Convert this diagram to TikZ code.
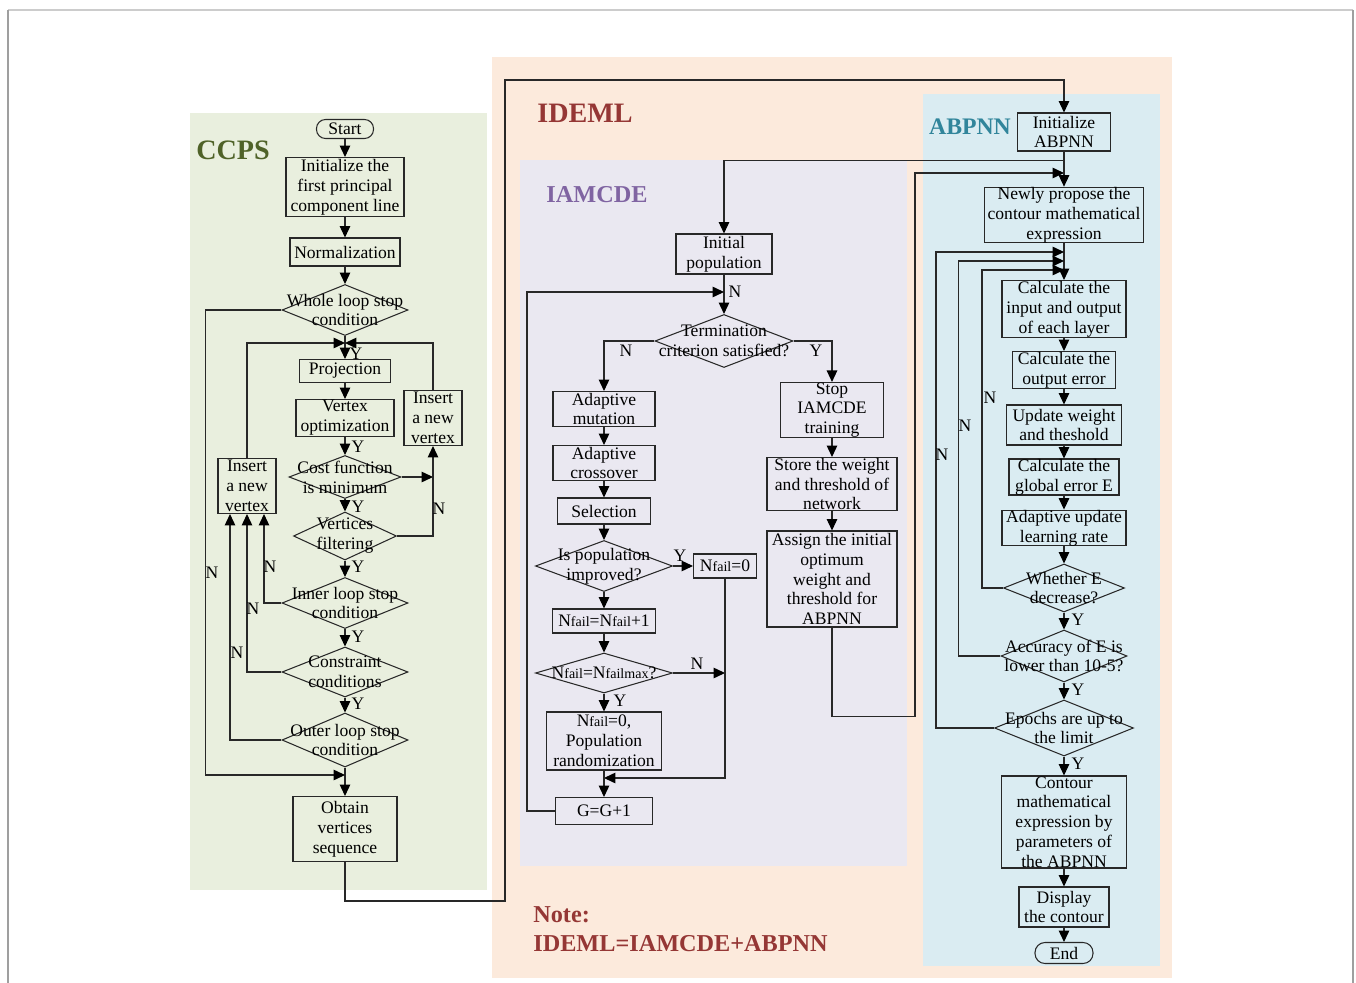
\documentclass[tikz,border=0pt]{standalone}
\usepackage{fontspec}
\setmainfont{Liberation Serif}
\usetikzlibrary{arrows.meta,shapes.geometric,calc}
\definecolor{ccpsbg}{RGB}{233,239,222}
\definecolor{idemlbg}{RGB}{252,234,220}
\definecolor{iamcdebg}{RGB}{234,232,241}
\definecolor{abpnnbg}{RGB}{218,236,242}
\definecolor{ccpsc}{RGB}{79,98,40}
\definecolor{idemlc}{RGB}{149,55,53}
\definecolor{iamcdec}{RGB}{128,100,162}
\definecolor{abpnnc}{RGB}{49,133,155}
\definecolor{linec}{RGB}{40,40,40}
\newcommand{\flowfont}{\fontsize{10}{11.3}\selectfont}
\newcommand{\sub}[1]{{\fontsize{8}{9}\selectfont #1}}
\tikzset{
	box/.style={draw=linec, line width=0.6pt, align=center, inner sep=0pt, font=\flowfont},
	dec/.style={draw=linec, line width=0.6pt, diamond, inner sep=0pt},
	dl/.style={label={[font=\flowfont,align=center]center:#1}},
	sz/.style 2 args={minimum width=#1*0.02cm, minimum height=#2*0.02cm},
	arr/.style={draw=linec, line width=0.6pt, -{Triangle[length=6.5pt,width=6pt,color=black]}},
	yn/.style={font=\flowfont, inner sep=0pt},
	title/.style={font=\fontsize{#1}{#1}\selectfont\bfseries, inner sep=0pt},
}
\begin{document}
\begin{tikzpicture}[x=0.02cm,y=-0.02cm]
	\useasboundingbox (0,0) rectangle (1356,983);
	% frame and regions
	\draw[gray!40, line width=1pt] (8,10) -- (1353,10);
	\draw[gray!75, line width=0.8pt] (8,10) -- (8,983) (1353,10) -- (1353,983);
	\fill[ccpsbg] (190,113) rectangle (487,890);
	\fill[idemlbg] (492,57) rectangle (1172,978);
	\fill[iamcdebg] (520,160) rectangle (907,866);
	\fill[abpnnbg] (923,94) rectangle (1160,966);
	\node[title=16, text=ccpsc] (tccps) at (233,150) {CCPS};
	\node[title=16, text=idemlc] (tideml) at (585,113) {IDEML};
	\node[title=13.8, text=iamcdec] (tiamcde) at (597,195) {IAMCDE};
	\node[title=13.5, text=abpnnc] (tabpnn) at (970,127) {ABPNN};
	\node[title=13.8, text=idemlc, anchor=west] (tnote) at (533,915) {Note:};
	\node[title=13.8, text=idemlc, anchor=west] (tsum) at (533,944) {IDEML=IAMCDE+ABPNN};

	% CCPS
	\node[box, sz={57}{19}, rounded corners=0.18cm] (start) at (345,129) {Start};
	\node[box, sz={118}{59}] (init) at (345,187) {Initialize the\\first principal\\component line};
	\node[box, sz={110}{28}] (norm) at (345,252) {Normalization};
	\node[dec, sz={126}{51}, dl={Whole loop stop\\condition}] (whole) at (345,310) {};
	\node[box, sz={91}{23}] (proj) at (345,371) {Projection};
	\node[box, sz={98}{37}] (vopt) at (345,418) {Vertex\\optimization};
	\node[dec, sz={112}{43}, dl={Cost function\\is minimum}] (cost) at (345,477) {};
	\node[dec, sz={103}{48}, dl={Vertices\\filtering}] (vfilt) at (345,536) {};
	\node[dec, sz={126}{51}, dl={Inner loop stop\\condition}] (inner) at (345,603) {};
	\node[dec, sz={126}{50}, dl={Constraint\\conditions}] (constr) at (345,672) {};
	\node[dec, sz={126}{54}, dl={Outer loop stop\\condition}] (outer) at (345,740) {};
	\node[box, sz={104}{65}] (obtain) at (345,829) {Obtain\\vertices\\sequence};
	\node[box, sz={58}{55}] (insL) at (247,486) {Insert\\a new\\vertex};
	\node[box, sz={58}{55}] (insR) at (433,418) {Insert\\a new\\vertex};
	\coordinate (mTop) at (345,343);
	\coordinate (mCost) at (433,477);
	\coordinate (mOut) at (345,775);
	\coordinate (cBot) at (505,901);
	\coordinate (cTop) at (505,80);

	\draw[arr] (start) -- (init);
	\draw[arr] (init) -- (norm);
	\draw[arr] (norm) -- (whole);
	\draw[arr] (whole) -- (proj);
	\draw[arr] (insL.north) |- (mTop);
	\draw[arr] (insR.north) |- (mTop);
	\draw[arr] (proj) -- (vopt);
	\draw[arr] (vopt) -- (cost);
	\draw[arr] (cost) -- (vfilt);
	\draw[arr] (vfilt) -- (inner);
	\draw[arr] (inner) -- (constr);
	\draw[arr] (constr) -- (outer);
	\draw[arr] (outer) -- (obtain);
	\draw[arr] (cost.east) -- (mCost);
	\draw[arr] (vfilt.east) -| (insR.south);
	\draw[arr] (inner.west) -| ([xshift=0.34cm]insL.south);
	\draw[arr] (constr.west) -| (insL.south);
	\draw[arr] (outer.west) -| ([xshift=-0.34cm]insL.south);
	\draw[arr] (whole.west) -- ++(-76,0) |- (mOut);
	\node[yn] (y1) at (356,354) {Y};
	\node[yn] (y2) at (358,447) {Y};
	\node[yn] (y3) at (358,507) {Y};
	\node[yn] (y4) at (358,567) {Y};
	\node[yn] (y5) at (358,637) {Y};
	\node[yn] (y6) at (358,704) {Y};
	\node[yn] (n1) at (439,509) {N};
	\node[yn] (n2) at (212,573) {N};
	\node[yn] (n3) at (270,567) {N};
	\node[yn] (n4) at (253,609) {N};
	\node[yn] (n5) at (237,653) {N};

	% IAMCDE
	\node[box, sz={96}{40}] (initpop) at (724,254) {Initial\\population};
	\node[dec, sz={138}{53}, dl={Termination\\criterion satisfied?}] (term) at (724,341) {};
	\node[box, sz={102}{35}] (mut) at (604,409) {Adaptive\\mutation};
	\node[box, sz={102}{35}] (cross) at (604,463) {Adaptive\\crossover};
	\node[box, sz={93}{26}] (sel) at (604,511) {Selection};
	\node[dec, sz={137}{51}, dl={Is population\\improved?}] (improved) at (604,566) {};
	\node[box, sz={63}{24}] (nfz) at (725,566) {N\sub{fail}=0};
	\node[box, sz={103}{24}] (ninc) at (604,621) {N\sub{fail}=N\sub{fail}+1};
	\node[dec, sz={137}{40}, dl={N\sub{fail}=N\sub{failmax}?}] (nmax) at (604,673) {};
	\node[box, sz={115}{58}] (rand) at (604,741) {N\sub{fail}=0,\\Population\\randomization};
	\node[box, sz={97}{27}] (gg) at (604,811) {G=G+1};
	\node[box, sz={103}{55}] (stop) at (832,410) {Stop\\IAMCDE\\training};
	\node[box, sz={130}{53}] (store) at (832,484) {Store the weight\\and threshold of\\network};
	\node[box, sz={130}{96}] (assign) at (832,579) {Assign the initial\\optimum\\weight and\\threshold for\\ABPNN};
	\coordinate (jTerm) at (724,292);
	\coordinate (jRand) at (604,778);
	\coordinate (jMax) at (725,673);

	% ABPNN
	\node[box, sz={93}{38}] (initab) at (1064,132) {Initialize\\ABPNN};
	\node[box, sz={159}{55}] (newly) at (1064,215) {Newly propose the\\contour mathematical\\expression};
	\node[box, sz={124}{57}] (calcio) at (1064,309) {Calculate the\\input and output\\of each layer};
	\node[box, sz={103}{37}] (outerr) at (1064,370) {Calculate the\\output error};
	\node[box, sz={115}{40}] (upd) at (1064,425) {Update weight\\and theshold};
	\node[box, sz={110}{36}] (gerr) at (1064,477) {Calculate the\\global error E};
	\node[box, sz={124}{35}] (adapt) at (1064,528) {Adaptive update\\learning rate};
	\node[dec, sz={121}{48}, dl={Whether E\\decrease?}] (whether) at (1064,588) {};
	\node[dec, sz={126}{52}, dl={Accuracy of E is\\lower than 10-5?}] (accur) at (1064,656) {};
	\node[dec, sz={139}{56}, dl={Epochs are up to\\the limit}] (epochs) at (1064,728) {};
	\node[box, sz={125}{92}] (contour) at (1064,822) {Contour\\mathematical\\expression by\\parameters of\\the ABPNN};
	\node[box, sz={90}{40}] (display) at (1064,907) {Display\\the contour};
	\node[box, sz={58}{21}, rounded corners=0.2cm] (endn) at (1064,953) {End};
	\coordinate (jNew) at (1064,173);
	\coordinate (jA) at (1064,252);
	\coordinate (jB) at (1064,261);
	\coordinate (jC) at (1064,270);

	\draw[arr] (obtain.south) |- (cBot) -- (cTop) -| (initab.north);
	\draw[arr] (initab.south) -- ++(0,9) -| (initpop.north);
	\draw[arr] (initpop) -- (term);
	\draw[arr] (gg.west) -- ++(-28,0) |- (jTerm);
	\draw[arr] (term.west) -| (mut.north);
	\draw[arr] (term.east) -| (stop.north);
	\draw[arr] (mut) -- (cross);
	\draw[arr] (cross) -- (sel);
	\draw[arr] (sel) -- (improved);
	\draw[arr] (improved) -- (nfz);
	\draw[arr] (improved) -- (ninc);
	\draw[arr] (ninc) -- (nmax);
	\draw[arr] (nmax) -- (rand);
	\draw[arr] (nmax.east) -- (jMax);
	\draw[arr] (nfz.south) |- (jRand);
	\draw[arr] (rand) -- (gg);
	\draw[arr] (stop) -- (store);
	\draw[arr] (store) -- (assign);
	\draw[arr] (assign.south) -- ++(0,89) -- ++(83,0) |- (jNew);
	\node[yn] (n6) at (735,292) {N};
	\node[yn] (n7) at (626,351) {N};
	\node[yn] (y7) at (816,351) {Y};
	\node[yn] (y8) at (680,556) {Y};
	\node[yn] (n8) at (697,664) {N};
	\node[yn] (y9) at (620,701) {Y};

	\draw[arr] (initab) -- (newly);
	\draw[arr] (newly) -- (calcio);
	\draw[arr] (calcio) -- (outerr);
	\draw[arr] (outerr) -- (upd);
	\draw[arr] (upd) -- (gerr);
	\draw[arr] (gerr) -- (adapt);
	\draw[arr] (adapt) -- (whether);
	\draw[arr] (whether) -- (accur);
	\draw[arr] (accur) -- (epochs);
	\draw[arr] (epochs) -- (contour);
	\draw[arr] (contour) -- (display);
	\draw[arr] (display) -- (endn);
	\draw[arr] (whether.west) -- ++(-21,0) |- (jC);
	\draw[arr] (accur.west) -- ++(-42,0) |- (jB);
	\draw[arr] (epochs.west) -- ++(-58,0) |- (jA);
	\node[yn] (n9) at (990,398) {N};
	\node[yn] (n10) at (965,426) {N};
	\node[yn] (n11) at (942,455) {N};
	\node[yn] (y10) at (1078,620) {Y};
	\node[yn] (y11) at (1078,690) {Y};
	\node[yn] (y12) at (1078,764) {Y};
\end{tikzpicture}
\end{document}
